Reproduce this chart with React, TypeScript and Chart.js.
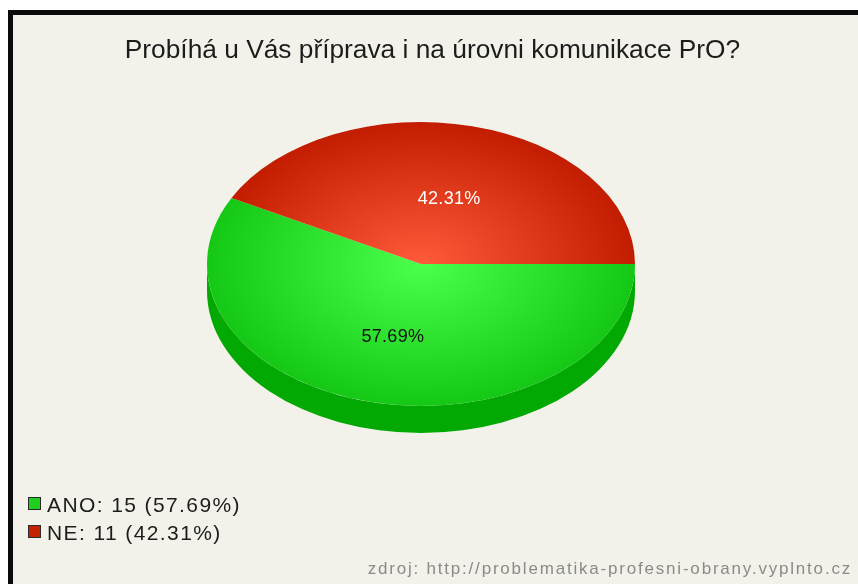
import React, { useEffect, useRef } from 'react';
import { Chart, registerables } from 'chart.js';

Chart.register(...registerables);

const titleText = 'Probíhá u Vás příprava i na úrovni komunikace PrO?';
const sourceText = 'zdroj: http://problematika-profesni-obrany.vyplnto.cz';
const labels = ['ANO', 'NE'];
const counts = [15, 11];
const centerColors = ['#4dff4d', '#ff5a3a'];
const edgeColors = ['#16c816', '#c21d00'];
const sideColors = ['#03a903', '#9a1600'];
const legendColors = ['#1fce1f', '#c52200'];
const labelColors = ['#111111', '#ffffff'];

const W = 858;
const H = 584;
const RX = 214;
const RY = 142;
const DEPTH = 27;
const RATIO = RY / RX;

const total = counts.reduce((a, b) => a + b, 0);
const pcts = counts.map((c) => ((c / total) * 100).toFixed(2));

function drawText(
  ctx: CanvasRenderingContext2D,
  text: string,
  x: number,
  y: number,
  font: string,
  color: string,
  align: CanvasTextAlign,
  spacing: number,
  baseline: CanvasTextBaseline = 'alphabetic'
) {
  ctx.save();
  ctx.font = font;
  ctx.fillStyle = color;
  ctx.textAlign = align;
  ctx.textBaseline = baseline;
  (ctx as any).letterSpacing = spacing + 'px';
  ctx.fillText(text, x, y);
  ctx.restore();
}

const pie3d = {
  id: 'pie3d',
  beforeDraw(chart: any) {
    const ctx = chart.ctx as CanvasRenderingContext2D;
    ctx.save();
    ctx.fillStyle = '#ffffff';
    ctx.fillRect(0, 0, W, H);
    ctx.fillStyle = '#f3f2ea';
    ctx.fillRect(13, 15, W - 13, H - 15);
    ctx.fillStyle = '#0a0a0a';
    ctx.fillRect(8, 10, 5, H - 10);
    ctx.fillRect(8, 10, W - 8, 5);
    ctx.restore();
  },
  beforeDatasetsDraw(chart: any) {
    const ctx = chart.ctx as CanvasRenderingContext2D;
    const meta = chart.getDatasetMeta(0);
    meta.data.forEach((el: any, i: number) => {
      const { x, y, startAngle, endAngle, outerRadius } = el;
      const rx = outerRadius;
      const ry = outerRadius * RATIO;
      const ranges = [
        [0, Math.PI],
        [2 * Math.PI, 3 * Math.PI],
      ];
      ranges.forEach(([a0, a1]) => {
        const s = Math.max(startAngle, a0);
        const e = Math.min(endAngle, a1);
        if (e <= s) return;
        ctx.save();
        ctx.beginPath();
        ctx.ellipse(x, y, rx, ry, 0, s, e, false);
        ctx.ellipse(x, y + DEPTH, rx, ry, 0, e, s, true);
        ctx.closePath();
        ctx.fillStyle = sideColors[i];
        ctx.fill();
        ctx.restore();
      });
    });
    const el0 = meta.data[0];
    ctx.save();
    ctx.translate(el0.x, el0.y);
    ctx.scale(1, RATIO);
    ctx.translate(-el0.x, -el0.y);
  },
  afterDatasetsDraw(chart: any) {
    const ctx = chart.ctx as CanvasRenderingContext2D;
    ctx.restore();
    const meta = chart.getDatasetMeta(0);
    meta.data.forEach((el: any, i: number) => {
      const { x, y, startAngle, endAngle, outerRadius } = el;
      const mid = (startAngle + endAngle) / 2;
      const lx = x + Math.cos(mid) * outerRadius * 0.55;
      const ly = y + Math.sin(mid) * outerRadius * RATIO * 0.5 + 4;
      drawText(ctx, pcts[i] + '%', lx, ly, '18px "Liberation Sans", Arial, sans-serif', labelColors[i], 'center', 0.3, 'middle');
    });
  },
  afterDraw(chart: any) {
    const ctx = chart.ctx as CanvasRenderingContext2D;
    drawText(ctx, titleText, 432.5, 58, '26.3px "Liberation Sans", Arial, sans-serif', '#1c1c1c', 'center', 0);
    labels.forEach((lab, i) => {
      const top = 497 + i * 28;
      ctx.save();
      ctx.fillStyle = legendColors[i];
      ctx.fillRect(28, top, 13, 13);
      ctx.strokeStyle = '#2a2a2a';
      ctx.lineWidth = 1;
      ctx.strokeRect(28.5, top + 0.5, 12, 12);
      ctx.restore();
      drawText(
        ctx,
        `${lab}: ${counts[i]} (${pcts[i]}%)`,
        47,
        top + 15,
        '21px "Liberation Sans", Arial, sans-serif',
        '#1c1c1c',
        'left',
        1.4
      );
    });
    drawText(ctx, sourceText, 852, 574, '17px "Liberation Sans", Arial, sans-serif', '#8a8a8a', 'right', 1.8);
  },
};

export default function App() {
  const ref = useRef<HTMLCanvasElement | null>(null);
  useEffect(() => {
    if (!ref.current) return;
    const chart = new Chart(ref.current, {
      type: 'pie',
      data: {
        labels,
        datasets: [
          {
            data: counts,
            radius: RX,
            borderWidth: 0,
            clip: false as any,
            backgroundColor: (c: any) => {
              const ch = c.chart;
              const i = c.dataIndex;
              const area = ch.chartArea;
              if (!area) return edgeColors[i];
              const cx = (area.left + area.right) / 2;
              const cy = (area.top + area.bottom) / 2;
              const g = ch.ctx.createRadialGradient(cx, cy, 0, cx, cy, RX);
              g.addColorStop(0, centerColors[i]);
              g.addColorStop(1, edgeColors[i]);
              return g;
            },
          } as any,
        ],
      },
      options: {
        responsive: false,
        animation: false,
        devicePixelRatio: 1,
        events: [],
        rotation: 90,
        layout: { padding: { left: 0, right: 16, top: 0, bottom: 56 } },
        plugins: {
          legend: { display: false },
          title: { display: false },
          tooltip: { enabled: false },
        },
      },
      plugins: [pie3d],
    });
    return () => chart.destroy();
  }, []);
  return (
    <div style={{ position: 'absolute', left: 0, top: 0, width: W, height: H }}>
      <canvas ref={ref} width={W} height={H} />
    </div>
  );
}
